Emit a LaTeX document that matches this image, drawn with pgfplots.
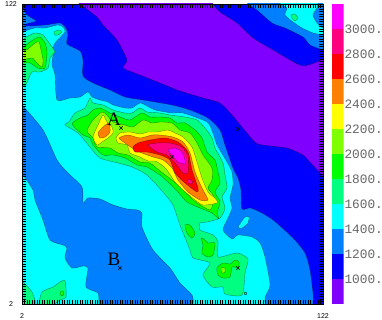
\documentclass[border=0pt]{standalone}
\usepackage{fontspec}
\setmainfont{Liberation Serif}
\newfontfamily\lsans{Liberation Sans}
\newfontfamily\lmono{Liberation Mono}
\usepackage{pgfplots}
\pgfplotsset{compat=1.18}
\definecolor{cviolet}{HTML}{8000FF}
\definecolor{cblue}{HTML}{0000FF}
\definecolor{cazure}{HTML}{0080FF}
\definecolor{ccyan}{HTML}{00FFFF}
\definecolor{cspring}{HTML}{00FF80}
\definecolor{cgreen}{HTML}{00FF00}
\definecolor{cchart}{HTML}{80FF00}
\definecolor{cyellow}{HTML}{FFFF00}
\definecolor{corange}{HTML}{FF8000}
\definecolor{cred}{HTML}{FF0000}
\definecolor{cpink}{HTML}{FF0080}
\definecolor{cmag}{HTML}{FF00FF}
\pgfplotsset{lev/.style={fill=#1,draw=black,draw opacity=0.5,line width=0.35pt,line join=round,smooth cycle,tension=0.4}}
\begin{document}
\begin{tikzpicture}[x=1pt,y=1pt]
\useasboundingbox (0,0) rectangle (382,320);
\begin{axis}[
  at={(22pt,16pt)},anchor=south west,scale only axis,width=301pt,height=300pt,
  xmin=2,xmax=122,ymin=2,ymax=122,
  x filter/.expression={2+(x-22)*120/301},
  y filter/.expression={122-(y-4)*120/300},
  xtick={2,122},ytick={2,122},xticklabels={2,122},yticklabels={2,122},
  minor xtick={2,3,...,122},minor ytick={2,3,...,122},
  tick align=inside,tick pos=both,major tick length=4pt,minor tick length=4pt,
  tick style={black,line width=0.35pt},
  xticklabel pos=lower,yticklabel pos=left,
  xticklabel style={font=\lsans\fontsize{7}{7}\selectfont,anchor=center,yshift=-12pt},
  yticklabel style={font=\lsans\fontsize{7}{7}\selectfont,anchor=center,xshift=-11pt},
  axis line style={black,line width=0.5pt},
  axis on top,
]
\addplot[fill=cblue,draw=none] coordinates {(22,4)(323,4)(323,304)(22,304)} -- cycle;
% below 1000
\addplot[lev=cviolet] coordinates {(72,-3)(80,4)(97,17)(103,25)(117,40)(127,60)(123,68)(140,75)(170,87)(180,91)(203,98)(220,103)(232,115)(247,133)(258,144)(287,148)(303,155)(308,160)(320,173)(323,177)(328,180)(335,175)(335,60)(330,55)(323,59)(317,62)(303,66)(290,60)(273,50)(253,38)(237,23)(220,12)(213,4)(208,-3)(190,-8)(80,-8)};
% 1200
\addplot[lev=cazure] coordinates {(22,7)(27,15)(36,21)(26,24)(26,26)(45,25)(60,23)(66,28)(68,35)(67,44)(80,51)(83,60)(83,76)(93,83)(110,90)(125,97)(143,100)(172,105)(190,110)(208,118)(220,130)(225,145)(233,168)(238,178)(241,190)(242,209)(250,208)(260,212)(273,220)(293,238)(305,253)(310,270)(313,293)(314,304)(315,310)(300,314)(10,314)(10,20)(14,8)};
\addplot[lev=cazure] coordinates {(248,4)(257,10)(272,23)(285,28)(303,37)(310,45)(323,50)(330,52)(335,45)(335,0)(330,-6)(250,-6)(245,-2)};
% 1400
\addplot[lev=ccyan] coordinates {(22,33)(28,30)(35,28)(45,28)(58,25)(63,27)(65,32)(55,43)(52,52)(53,55)(52,65)(55,75)(57,100)(70,98)(80,97)(88,92)(92,97)(100,100)(108,102)(113,105)(125,108)(132,108)(140,103)(147,106)(155,110)(172,113)(183,113)(207,122)(213,133)(217,145)(227,162)(232,172)(233,185)(230,198)(232,208)(228,218)(223,230)(232,239)(238,235)(252,237)(260,243)(265,257)(270,285)(265,297)(265,304)(263,311)(250,314)(12,314)(12,35)(16,34)};
\addplot[lev=ccyan] coordinates {(238,227)(245,217)(249,217)(248,223)(242,228)};
\addplot[lev=ccyan] coordinates {(280,4)(287,8)(285,15)(293,22)(302,28)(313,33)(323,35)(330,36)(334,33)(330,26)(323,28)(317,23)(313,15)(317,8)(318,4)(316,-3)(300,-6)(285,-3)};
% the lake below 1400 inside the cyan
\addplot[lev=cazure] coordinates {(22,105)(43,130)(57,160)(68,173)(82,187)(83,203)(88,198)(100,199)(113,205)(127,209)(137,210)(142,213)(142,227)(153,250)(170,268)(180,283)(192,295)(193,304)(190,311)(180,314)(110,314)(102,311)(99,304)(98,293)(86,287)(88,268)(83,266)(72,268)(65,258)(67,248)(63,245)(50,240)(43,220)(35,200)(33,190)(22,173)(16,165)(14,160)(14,110)(17,101)};
% 1600
\addplot[lev=cspring] coordinates {(22,40)(28,36)(35,33)(43,35)(52,47)(55,52)(50,58)(48,68)(40,72)(32,72)(28,80)(25,86)(22,85)(16,83)(14,60)(16,42)};
\addplot[lev=cspring] coordinates {(54,32)(59,30)(62,32)(58,35)(55,35)};
\addplot[lev=cspring] coordinates {(291,15)(295,14)(298,18)(295,21)(292,18)};
\addplot[lev=cspring] coordinates {(65,125)(69,122)(75,113)(85,108)(90,98)(93,103)(103,105)(113,110)(125,113)(132,113)(140,108)(147,112)(160,113)(170,115)(185,117)(197,120)(205,128)(212,138)(215,148)(223,163)(225,175)(227,188)(222,197)(225,208)(220,218)(207,222)(200,223)(200,230)(213,235)(218,242)(218,257)(237,253)(248,259)(245,273)(242,295)(225,294)(223,287)(212,287)(203,275)(210,263)(193,258)(190,250)(180,225)(173,205)(163,192)(147,175)(132,167)(118,163)(100,158)(90,147)(78,133)};
\addplot[lev=cspring] coordinates {(244,292)(246,292)(246,294)(244,294)};
\addplot[lev=cspring] coordinates {(22,281)(26,285)(32,292)(35,300)(36,304)(37,310)(30,313)(14,313)(14,285)(17,281)};
\addplot[lev=cspring] coordinates {(39,304)(42,292)(53,287)(60,282)(65,281)(66,297)(60,300)(55,304)(52,310)(45,312)(40,310)};
% 1800
\addplot[lev=cgreen] coordinates {(22,48)(33,40)(40,37)(45,43)(47,52)(45,68)(38,68)(30,63)(22,63)(16,63)(14,55)(16,49)};
\addplot[lev=cgreen] coordinates {(72,124)(80,118)(88,115)(93,110)(100,108)(110,113)(120,117)(130,120)(142,113)(150,117)(160,117)(170,118)(177,123)(185,123)(195,130)(202,138)(207,152)(215,160)(218,172)(220,183)(215,192)(220,202)(217,213)(219,219)(212,213)(200,208)(187,202)(178,192)(168,182)(160,175)(147,167)(137,165)(125,158)(113,155)(103,155)(93,145)(90,138)(83,135)};
\addplot[lev=cgreen] coordinates {(185,225)(190,225)(195,233)(192,238)(187,233)};
\addplot[lev=cgreen] coordinates {(201,238)(205,240)(208,243)(215,243)(213,255)(208,257)(202,253)(203,245)};
\addplot[lev=cgreen] coordinates {(217,268)(223,263)(230,264)(235,260)(239,262)(238,268)(232,267)(230,277)(223,278)(218,275)};
\addplot[lev=cgreen] coordinates {(61,291)(63,291)(64,294)(62,296)(60,294)};
% 2000
\addplot[lev=cchart] coordinates {(22,52)(28,49)(35,43)(39,42)(41,50)(43,60)(42,67)(37,63)(32,58)(22,60)(16,60)(14,56)(16,53)};
\addplot[lev=cchart] coordinates {(87,131)(93,120)(102,112)(107,115)(113,122)(125,125)(133,127)(143,120)(152,123)(160,122)(172,123)(180,130)(190,133)(197,143)(203,155)(212,168)(212,180)(208,188)(213,195)(213,203)(210,210)(197,203)(188,195)(180,187)(172,180)(160,171)(150,163)(140,162)(128,155)(118,153)(110,148)(97,147)(93,138)};
\addplot[lev=cchart] coordinates {(221,268)(225,268)(225,272)(222,273)};
% 2200
\addplot[lev=cyellow] coordinates {(93,137)(98,125)(103,115)(107,122)(112,127)(113,133)(108,138)(102,142)(97,145)};
\addplot[lev=cyellow] coordinates {(116,138)(120,133)(130,132)(140,134)(148,132)(157,132)(168,130)(175,133)(183,137)(192,147)(197,162)(202,178)(208,192)(215,198)(217,203)(203,205)(195,200)(183,190)(175,182)(167,170)(162,165)(155,161)(148,161)(140,157)(130,153)(127,145)(118,143)};
% 2400
\addplot[lev=corange] coordinates {(98,133)(103,127)(109,123)(110,132)(105,137)(100,138)};
\addplot[lev=corange] coordinates {(119,138)(128,135)(140,138)(152,135)(160,135)(173,137)(183,142)(190,153)(195,172)(202,188)(208,200)(200,200)(188,192)(178,180)(172,168)(163,160)(153,157)(142,153)(132,148)(125,143)};
% 2600
\addplot[lev=cred] coordinates {(133,147)(138,143)(150,140)(165,138)(178,142)(188,152)(192,170)(198,188)(197,192)(185,183)(175,173)(170,160)(160,155)(147,152)(135,152)};
% 2800
\addplot[lev=cpink] coordinates {(148,145)(157,143)(170,143)(182,147)(188,157)(188,173)(183,173)(175,163)(167,155)(157,152)};
\addplot[lev=cpink] coordinates {(187,180)(190,179)(193,182)(191,184)(188,183)};
% 3000
\addplot[lev=cmag] coordinates {(168,150)(175,148)(182,152)(185,160)(185,164)(178,162)(172,155)};
% station marks
\addplot[only marks,mark=x,mark size=2.4pt,black,line width=0.65pt,mark options={solid}] coordinates {(121,128)(120,268)(172,157)(238,129)(238,268)};
\end{axis}
\node[font=\fontsize{19}{19}\selectfont,inner sep=0pt] at (114,201) {A};
\node[font=\fontsize{19}{19}\selectfont,inner sep=0pt] at (114,61) {B};
\begin{axis}[
  at={(332pt,16pt)},anchor=south west,scale only axis,width=11.5pt,height=300pt,
  xmin=0,xmax=1,ymin=800,ymax=3200,
  xtick=\empty,ytick={1000,1200,1400,1600,1800,2000,2200,2400,2600,2800,3000},
  yticklabels={1000.,1200.,1400.,1600.,1800.,2000.,2200.,2400.,2600.,2800.,3000.},
  ytick pos=right,major tick length=0pt,
  axis line style={draw=none},
  yticklabel style={font=\lmono\fontsize{12.8}{12.8}\selectfont,text=black!60,anchor=west,inner sep=0pt,xshift=0.8pt},
]
\addplot[fill=cviolet,draw=none] coordinates {(0,800)(1,800)(1,1000)(0,1000)} -- cycle;
\addplot[fill=cblue,draw=none] coordinates {(0,1000)(1,1000)(1,1200)(0,1200)} -- cycle;
\addplot[fill=cazure,draw=none] coordinates {(0,1200)(1,1200)(1,1400)(0,1400)} -- cycle;
\addplot[fill=ccyan,draw=none] coordinates {(0,1400)(1,1400)(1,1600)(0,1600)} -- cycle;
\addplot[fill=cspring,draw=none] coordinates {(0,1600)(1,1600)(1,1800)(0,1800)} -- cycle;
\addplot[fill=cgreen,draw=none] coordinates {(0,1800)(1,1800)(1,2000)(0,2000)} -- cycle;
\addplot[fill=cchart,draw=none] coordinates {(0,2000)(1,2000)(1,2200)(0,2200)} -- cycle;
\addplot[fill=cyellow,draw=none] coordinates {(0,2200)(1,2200)(1,2400)(0,2400)} -- cycle;
\addplot[fill=corange,draw=none] coordinates {(0,2400)(1,2400)(1,2600)(0,2600)} -- cycle;
\addplot[fill=cred,draw=none] coordinates {(0,2600)(1,2600)(1,2800)(0,2800)} -- cycle;
\addplot[fill=cpink,draw=none] coordinates {(0,2800)(1,2800)(1,3000)(0,3000)} -- cycle;
\addplot[fill=cmag,draw=none] coordinates {(0,3000)(1,3000)(1,3200)(0,3200)} -- cycle;
\end{axis}
\end{tikzpicture}
\end{document}
